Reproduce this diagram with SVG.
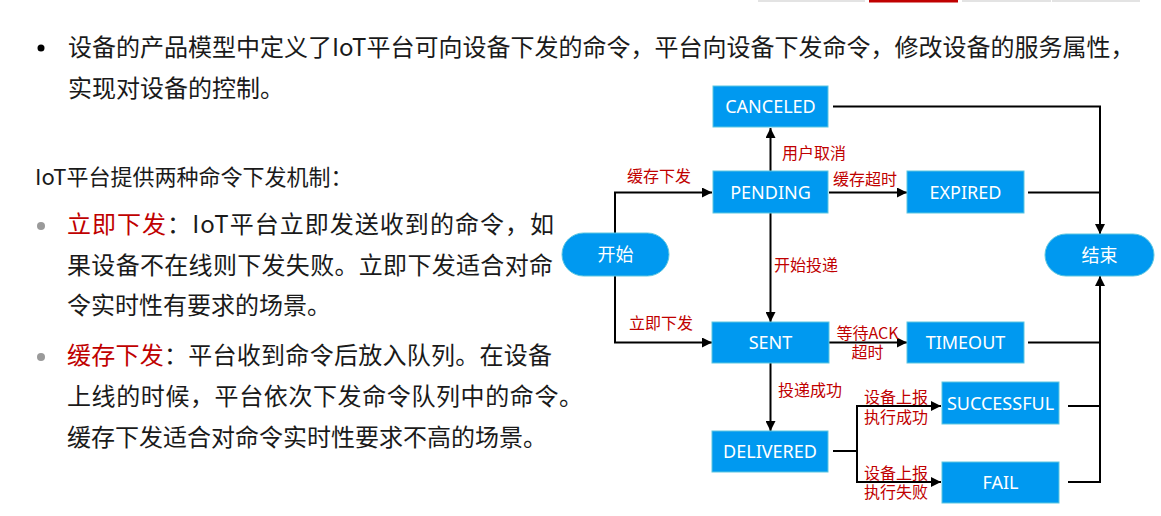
<svg xmlns="http://www.w3.org/2000/svg" width="1161" height="516" viewBox="0 0 1161 516">
<style>
.body{font-family:"Noto Sans CJK SC","Noto Sans",sans-serif;fill:#1a1a1a}
.red{fill:#C00000}
.box{fill:#0099F0;stroke:#5CC6E0;stroke-width:1}
.nt{font-family:"Noto Sans","Noto Sans CJK SC",sans-serif;font-size:18px;fill:#ffffff;text-anchor:middle}
.lb{font-family:"Noto Sans CJK SC","Noto Sans",sans-serif;font-size:16px;fill:#C00000}
.ln{fill:none;stroke:#000;stroke-width:2}
</style>
<defs>
<marker id="ah" viewBox="0 0 10 10" refX="10" refY="5" markerWidth="5" markerHeight="5" orient="auto" markerUnits="strokeWidth">
<path d="M0,0 L10,5 L0,10 z" fill="#000"/>
</marker>
</defs>
<rect width="1161" height="516" fill="#ffffff"/>
<g id="tabs">
<rect x="758" y="0" width="107" height="2" fill="#E3E3E3"/>
<rect x="869" y="0" width="89" height="2.5" fill="#C00000"/>
<rect x="962" y="0" width="89" height="2" fill="#E3E3E3"/>
<rect x="1052" y="0" width="88" height="2" fill="#E3E3E3"/>
</g>
<g id="text-left">
<circle cx="41" cy="48" r="3.5" fill="#000"/>
<text class="body" x="68" y="56" font-size="24">设备的产品模型中定义了IoT平台可向设备下发的命令，平台向设备下发命令，修改设备的服务属性，</text>
<text class="body" x="68" y="97" font-size="24">实现对设备的控制。</text>
<text class="body" x="35" y="185" font-size="22">IoT平台提供两种命令下发机制：</text>
<circle cx="41" cy="226" r="4" fill="#9a9a9a"/>
<text class="body" x="67" y="233" font-size="24" textLength="487" lengthAdjust="spacing"><tspan class="red">立即下发</tspan>：IoT平台立即发送收到的命令，如</text>
<text class="body" x="67" y="274" font-size="24" textLength="486" lengthAdjust="spacing">果设备不在线则下发失败。立即下发适合对命</text>
<text class="body" x="67" y="314" font-size="24">令实时性有要求的场景。</text>
<circle cx="41" cy="357" r="4" fill="#9a9a9a"/>
<text class="body" x="67" y="364" font-size="24" textLength="485" lengthAdjust="spacing"><tspan class="red">缓存下发</tspan>：平台收到命令后放入队列。在设备</text>
<text class="body" x="67" y="405" font-size="24" textLength="516" lengthAdjust="spacing">上线的时候，平台依次下发命令队列中的命令。</text>
<text class="body" x="67" y="446" font-size="24">缓存下发适合对命令实时性要求不高的场景。</text>
</g>
<g id="connectors">
<path class="ln" d="M615,233 V192.5 H712" marker-end="url(#ah)"/>
<path class="ln" d="M615,276 V342.5 H712" marker-end="url(#ah)"/>
<path class="ln" d="M770.5,171 V128" marker-end="url(#ah)"/>
<path class="ln" d="M829,192.5 H907" marker-end="url(#ah)"/>
<path class="ln" d="M770.5,213 V322" marker-end="url(#ah)"/>
<path class="ln" d="M829,342.5 H907" marker-end="url(#ah)"/>
<path class="ln" d="M770.5,363 V431" marker-end="url(#ah)"/>
<path class="ln" d="M833,451 H857 V406 H941" marker-end="url(#ah)"/>
<path class="ln" d="M857,451 V482 H941" marker-end="url(#ah)"/>
<path class="ln" d="M833,106.5 H1100 V234" marker-end="url(#ah)"/>
<path class="ln" d="M1028,192.5 H1100"/>
<path class="ln" d="M1068,482 H1100 V276" marker-end="url(#ah)"/>
<path class="ln" d="M1028,342.5 H1100"/>
<path class="ln" d="M1068,406 H1100"/>
<text class="lb" x="659" y="182" text-anchor="middle">缓存下发</text>
<text class="lb" x="782" y="159">用户取消</text>
<text class="lb" x="833" y="185">缓存超时</text>
<text class="lb" x="774" y="271">开始投递</text>
<text class="lb" x="661" y="329" text-anchor="middle">立即下发</text>
<text class="lb" x="867.5" y="339" text-anchor="middle">等待ACK</text>
<text class="lb" x="867.5" y="358" text-anchor="middle">超时</text>
<text class="lb" x="778" y="396">投递成功</text>
<text class="lb" x="864" y="403">设备上报</text>
<text class="lb" x="864" y="423">执行成功</text>
<text class="lb" x="864" y="479">设备上报</text>
<text class="lb" x="864" y="498">执行失败</text>
</g>
<g id="node-start"><rect class="box" x="562" y="233" width="107" height="43" rx="21.5"/><text class="nt" x="615.5" y="261" font-family="Noto Sans CJK SC">开始</text></g>
<g id="node-end"><rect class="box" x="1045" y="234" width="109" height="42" rx="21"/><text class="nt" x="1099.5" y="262">结束</text></g>
<g id="node-canceled"><rect class="box" x="713" y="86" width="115" height="41"/><text class="nt" x="770.5" y="113">CANCELED</text></g>
<g id="node-pending"><rect class="box" x="713" y="171" width="115" height="42"/><text class="nt" x="770.5" y="198.5">PENDING</text></g>
<g id="node-expired"><rect class="box" x="907" y="171" width="117" height="42"/><text class="nt" x="965.5" y="198.5">EXPIRED</text></g>
<g id="node-sent"><rect class="box" x="712" y="322" width="117" height="41"/><text class="nt" x="770.5" y="349">SENT</text></g>
<g id="node-timeout"><rect class="box" x="907" y="322" width="117" height="41"/><text class="nt" x="965.5" y="349">TIMEOUT</text></g>
<g id="node-successful"><rect class="box" x="942" y="382" width="117" height="42"/><text class="nt" x="1000.5" y="409.5">SUCCESSFUL</text></g>
<g id="node-delivered"><rect class="box" x="712" y="431" width="116" height="41"/><text class="nt" x="770" y="458">DELIVERED</text></g>
<g id="node-fail"><rect class="box" x="942" y="462" width="117" height="41"/><text class="nt" x="1000.5" y="489">FAIL</text></g>
</svg>
